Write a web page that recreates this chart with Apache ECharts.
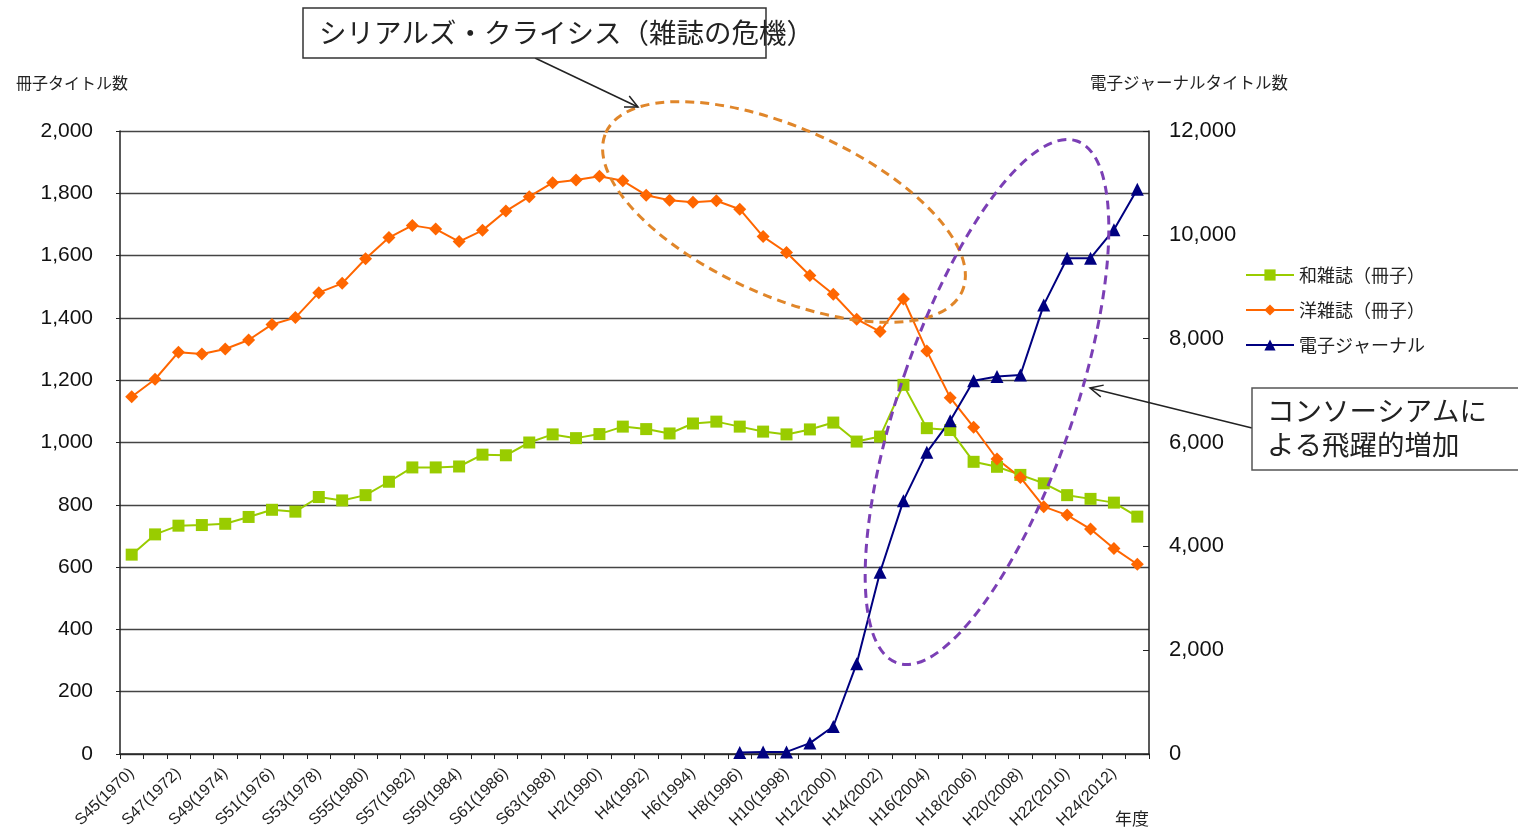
<!DOCTYPE html>
<html>
<head>
<meta charset="utf-8">
<script src="https://cdn.jsdelivr.net/npm/echarts@6/dist/echarts.min.js"></script>
<style>
    html, body {margin: 0; padding: 0; background: #fff;}
    #chart {width: 1518px; height: 833px;}
</style>
</head>
<body>
<div id="chart"></div>
<script>
    // 年度 (和暦 + 西暦)
    const categories = [
        'S45(1970)', 'S46(1971)', 'S47(1972)', 'S48(1973)', 'S49(1974)', 'S50(1975)', 'S51(1976)', 'S52(1977)',
        'S53(1978)', 'S54(1979)', 'S55(1980)', 'S56(1981)', 'S57(1982)', 'S58(1983)', 'S59(1984)', 'S60(1985)',
        'S61(1986)', 'S62(1987)', 'S63(1988)', 'H1(1989)', 'H2(1990)', 'H3(1991)', 'H4(1992)', 'H5(1993)',
        'H6(1994)', 'H7(1995)', 'H8(1996)', 'H9(1997)', 'H10(1998)', 'H11(1999)', 'H12(2000)', 'H13(2001)',
        'H14(2002)', 'H15(2003)', 'H16(2004)', 'H17(2005)', 'H18(2006)', 'H19(2007)', 'H20(2008)', 'H21(2009)',
        'H22(2010)', 'H23(2011)', 'H24(2012)', 'H25(2013)'
    ]
    // 和雑誌(冊子)
    const wazasshi = [
        640, 705, 733, 735, 739, 761, 784, 778, 825, 814, 831, 874, 920, 920, 923, 961,
        959, 1000, 1026, 1014, 1027, 1051, 1043, 1029, 1061, 1067, 1051, 1035, 1026, 1042, 1064, 1003,
        1019, 1185, 1046, 1040, 938, 922, 896, 869, 831, 819, 807, 762
    ]
    // 洋雑誌(冊子)
    const yozasshi = [
        1147, 1203, 1290, 1284, 1300, 1329, 1379, 1401, 1481, 1511, 1590, 1658, 1697, 1685, 1645, 1681,
        1743, 1789, 1834, 1843, 1855, 1840, 1794, 1778, 1771, 1776, 1749, 1661, 1610, 1536, 1476, 1396,
        1356, 1461, 1294, 1144, 1049, 947, 888, 794, 767, 722, 660, 609
    ]
    // 電子ジャーナル (右軸)
    const ejournal = [
        null, null, null, null, null, null, null, null, null, null, null, null, null, null, null, null,
        null, null, null, null, null, null, null, null, null, null, 30, 40, 40, 210, 530, 1740,
        3500, 4880, 5810, 6420, 7190, 7270, 7300, 8650, 9550, 9550, 10100, 10880
    ]
    const seriesNames = ['和雑誌（冊子）', '洋雑誌（冊子）', '電子ジャーナル']

    const jp = "'Noto Sans CJK JP', sans-serif"
    const num = "'Liberation Sans', Arial, sans-serif"
    const fmt = v => v.toLocaleString('en-US')

    // 矢印の先 (開いた V 字)
    function arrowHead(x1, y1, x2, y2, len) {
        const a = Math.atan2(y1 - y2, x1 - x2)
        const s = 0.45
        return [
            [x2 + len * Math.cos(a + s), y2 + len * Math.sin(a + s)],
            [x2, y2],
            [x2 + len * Math.cos(a - s), y2 + len * Math.sin(a - s)]
        ]
    }
    const deg = d => d * Math.PI / 180

    const chart = echarts.init(document.getElementById('chart'))
    chart.setOption({
        animation: false,
        backgroundColor: '#fff',
        grid: {left: 120, right: 369, top: 131, bottom: 79},
        legend: {
            orient: 'vertical',
            left: 1240,
            top: 261,
            itemGap: 17,
            itemWidth: 48,
            itemHeight: 14,
            data: seriesNames,
            textStyle: {fontFamily: jp, fontSize: 18, color: '#222'}
        },
        xAxis: {
            type: 'category',
            data: categories,
            boundaryGap: true,
            name: '年度',
            nameLocation: 'end',
            nameGap: 0,
            nameTextStyle: {fontFamily: jp, fontSize: 17, color: '#222', align: 'right', verticalAlign: 'top', padding: [56, 0, 0, 0]},
            axisLine: {lineStyle: {color: '#222', width: 1.5}},
            axisTick: {show: true, interval: 0, length: 5, lineStyle: {color: '#222'}},
            axisLabel: {interval: 1, rotate: 44, margin: 17, fontFamily: num, fontSize: 16, color: '#222'}
        },
        yAxis: [
            {
                type: 'value',
                min: 0, max: 2000, interval: 200,
                name: '冊子タイトル数',
                nameLocation: 'end',
                nameGap: 40,
                nameTextStyle: {fontFamily: jp, fontSize: 16, color: '#222', padding: [0, 96, 0, 0]},
                axisLine: {show: true, lineStyle: {color: '#222', width: 1.5}},
                axisTick: {show: true, length: 4, lineStyle: {color: '#222'}},
                axisLabel: {margin: 27, fontFamily: num, fontSize: 21, color: '#111', formatter: fmt},
                splitLine: {lineStyle: {color: '#444', width: 1.3}}
            },
            {
                type: 'value',
                min: 0, max: 12000, interval: 2000,
                name: '電子ジャーナルタイトル数',
                nameLocation: 'end',
                nameGap: 40,
                nameTextStyle: {fontFamily: jp, fontSize: 16.5, color: '#222', padding: [0, 0, 0, 80]},
                axisLine: {show: true, lineStyle: {color: '#222', width: 1.5}},
                axisTick: {show: true, inside: true, length: 6, lineStyle: {color: '#222'}},
                axisLabel: {margin: 20, fontFamily: num, fontSize: 22, color: '#111', formatter: fmt},
                splitLine: {show: false}
            }
        ],
        series: [
            {
                name: seriesNames[0],
                type: 'line',
                data: wazasshi,
                symbol: 'rect',
                symbolSize: 12,
                itemStyle: {color: '#99CC00'},
                lineStyle: {color: '#99CC00', width: 2}
            },
            {
                name: seriesNames[1],
                type: 'line',
                data: yozasshi,
                symbol: 'diamond',
                symbolSize: 13,
                itemStyle: {color: '#FF6600'},
                lineStyle: {color: '#FF6600', width: 2}
            },
            {
                name: seriesNames[2],
                type: 'line',
                yAxisIndex: 1,
                data: ejournal,
                symbol: 'triangle',
                symbolSize: 13,
                itemStyle: {color: '#000080'},
                lineStyle: {color: '#000080', width: 2}
            }
        ],
        graphic: [
            // シリアルズ・クライシス
            {
                type: 'ellipse', z: 100, x: 784, y: 212, rotation: deg(-24),
                shape: {cx: 0, cy: 0, rx: 195, ry: 84},
                style: {fill: 'none', stroke: '#E0862A', lineWidth: 3, lineDash: [9, 6]}
            },
            {
                type: 'line', z: 100,
                shape: {x1: 535, y1: 58, x2: 638, y2: 107},
                style: {stroke: '#222', lineWidth: 1.5}
            },
            {
                type: 'polyline', z: 100,
                shape: {points: arrowHead(535, 58, 638, 107, 14)},
                style: {fill: 'none', stroke: '#222', lineWidth: 1.5}
            },
            {
                type: 'rect', z: 100,
                shape: {x: 303, y: 8, width: 463, height: 50},
                style: {fill: '#fff', stroke: '#333', lineWidth: 1.5}
            },
            {
                type: 'text', z: 101, x: 319, y: 33,
                style: {text: 'シリアルズ・クライシス（雑誌の危機）', font: '27.5px ' + jp, fill: '#222', verticalAlign: 'middle'}
            },
            // コンソーシアムによる飛躍的増加
            {
                type: 'ellipse', z: 100, x: 987, y: 402, rotation: deg(-19),
                shape: {cx: 0, cy: 0, rx: 87, ry: 276},
                style: {fill: 'none', stroke: '#7B3FB5', lineWidth: 3, lineDash: [9, 6]}
            },
            {
                type: 'line', z: 100,
                shape: {x1: 1252, y1: 428, x2: 1090, y2: 388},
                style: {stroke: '#222', lineWidth: 1.5}
            },
            {
                type: 'polyline', z: 100,
                shape: {points: arrowHead(1252, 428, 1090, 388, 14)},
                style: {fill: 'none', stroke: '#222', lineWidth: 1.5}
            },
            {
                type: 'rect', z: 100,
                shape: {x: 1252, y: 388, width: 280, height: 82},
                style: {fill: '#fff', stroke: '#555', lineWidth: 1.5}
            },
            {
                type: 'text', z: 101, x: 1267, y: 428,
                style: {text: 'コンソーシアムに\nよる飛躍的増加', font: '27.5px ' + jp, lineHeight: 34, fill: '#222', verticalAlign: 'middle'}
            }
        ]
    })
</script>
</body>
</html>
